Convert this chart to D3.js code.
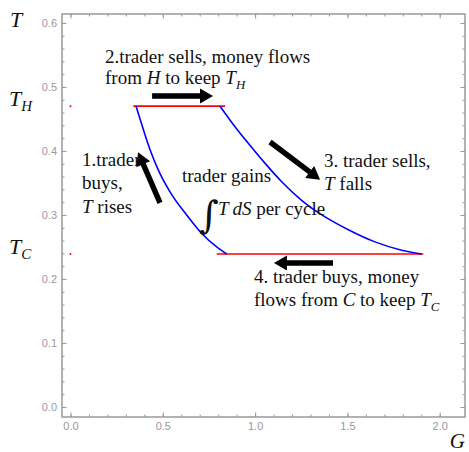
<!DOCTYPE html>
<html>
<head>
<meta charset="utf-8">
<script src="https://cdn.jsdelivr.net/npm/d3@7"></script>
<style>
  body { margin: 0; background: #fff; }
  svg { display: block; }
  .lbl { font-family: "Liberation Serif", "Times New Roman", Times, serif; font-size: 19px; fill: #111; }
  .it { font-style: italic; }
  .tk text { font-family: "Liberation Sans", Arial, sans-serif; font-size: 11px; fill: #999; }
  .tk line { stroke: #999; }
</style>
</head>
<body>
<svg width="469" height="452"></svg>
<script>
// values
var TH = 0.47, TC = 0.239;
var hotG = [0.34, 0.837];
var coldG = [0.792, 1.911];
var leftG = [0.355, 0.367, 0.431, 0.476, 0.539, 0.629, 0.711, 0.792, 0.846];
var leftT = [0.470, 0.459, 0.402, 0.370, 0.336, 0.300, 0.271, 0.250, 0.239];
var rightG = [0.810, 0.891, 0.963, 1.053, 1.144, 1.252, 1.379, 1.505, 1.649, 1.794, 1.902];
var rightT = [0.470, 0.438, 0.412, 0.381, 0.352, 0.323, 0.297, 0.277, 0.258, 0.245, 0.239];
var dotG = [0, 0];
var dotT = [TH, TC];
var xTicks = [0, 0.5, 1, 1.5, 2];
var yTicks = [0, 0.1, 0.2, 0.3, 0.4, 0.5, 0.6];
var xMinor = d3.range(0, 21).map(function(i){ return i / 10 });
var yMinor = d3.range(0, 31).map(function(i){ return i / 50 });
// arrows: [tailG, tailT, tipG, tipT]
var arrows = [
  [0.442, 0.486, 0.772, 0.486],
  [0.485, 0.319, 0.366, 0.398],
  [1.081, 0.414, 1.352, 0.355],
  [1.422, 0.225, 1.102, 0.225]
];

var svg = d3.select("svg");
var x = d3.scaleLinear().domain([-0.046, 2.137]).range([62, 465]);
var y = d3.scaleLinear().domain([-0.0156, 0.614]).range([417, 14]);
var fmt = d3.format(".1f");

// frame ticks, all four sides pointing in
function ticks(axis, tr, vals, size, labels){
  var g = svg.append("g").attr("class", "tk").attr("transform", tr)
    .call(axis.tickValues(vals).tickSizeInner(-size).tickSizeOuter(0)
      .tickPadding(labels ? 5 : 0).tickFormat(labels ? fmt : ""));
  g.select(".domain").remove();
}
ticks(d3.axisBottom(x), "translate(0,417)", xMinor, 2.5, false);
ticks(d3.axisBottom(x), "translate(0,417)", xTicks, 4.5, true);
ticks(d3.axisTop(x), "translate(0,14)", xMinor, 2.5, false);
ticks(d3.axisTop(x), "translate(0,14)", xTicks, 4.5, false);
ticks(d3.axisLeft(y), "translate(62,0)", yMinor, 2.5, false);
ticks(d3.axisLeft(y), "translate(62,0)", yTicks, 4.5, true);
ticks(d3.axisRight(y), "translate(465,0)", yMinor, 2.5, false);
ticks(d3.axisRight(y), "translate(465,0)", yTicks, 4.5, false);

svg.append("rect").attr("x", 62).attr("y", 14).attr("width", 403).attr("height", 403)
  .attr("fill", "none").attr("stroke", "#999").attr("stroke-width", 1.5);

// isotherms
svg.append("line").attr("x1", x(hotG[0])).attr("x2", x(hotG[1]))
  .attr("y1", y(TH)).attr("y2", y(TH)).attr("stroke", "red").attr("stroke-width", 1.6);
svg.append("line").attr("x1", x(coldG[0])).attr("x2", x(coldG[1]))
  .attr("y1", y(TC)).attr("y2", y(TC)).attr("stroke", "red").attr("stroke-width", 1.6);

var line = d3.line().x(function(d){ return x(d[0]) }).y(function(d){ return y(d[1]) })
  .curve(d3.curveMonotoneX);
svg.append("path").attr("d", line(d3.zip(leftG, leftT)))
  .attr("fill", "none").attr("stroke", "blue").attr("stroke-width", 1.6);
svg.append("path").attr("d", line(d3.zip(rightG, rightT)))
  .attr("fill", "none").attr("stroke", "blue").attr("stroke-width", 1.6);

svg.selectAll(".dot").data(d3.zip(dotG, dotT)).enter().append("circle")
  .attr("cx", function(d){ return x(d[0]) }).attr("cy", function(d){ return y(d[1]) })
  .attr("r", 1).attr("fill", "red");

// fat black arrows
svg.selectAll(".arr").data(arrows).enter().append("path")
  .attr("fill", "black")
  .attr("d", function(d){
    var x0 = x(d[0]), y0 = y(d[1]), x1 = x(d[2]), y1 = y(d[3]);
    var len = Math.hypot(x1 - x0, y1 - y0), ux = (x1 - x0) / len, uy = (y1 - y0) / len;
    var px = -uy, py = ux, w = 2.7, hw = 7.5, hl = 13;
    var bx = x1 - ux * hl, by = y1 - uy * hl;
    var p = [[x0 + px*w, y0 + py*w], [bx + px*w, by + py*w], [bx + px*hw, by + py*hw], [x1, y1],
             [bx - px*hw, by - py*hw], [bx - px*w, by - py*w], [x0 - px*w, y0 - py*w]];
    return "M" + p.map(function(q){ return q.join(",") }).join("L") + "Z";
  });

// texts
function txt(xp, yp, parts, size){
  var t = svg.append("text").attr("class", "lbl").attr("x", xp).attr("y", yp);
  if (size) t.style("font-size", size + "px");
  parts.forEach(function(p){
    var s = t.append("tspan").text(p[0]);
    if (p[1] == "i") s.attr("class", "it");
    if (p[1] == "sub") s.attr("class", "it").attr("dy", 5).style("font-size", "0.68em");
  });
  return t;
}
txt(10, 27, [["T", "i"]], 22);
txt(9, 106, [["T", "i"], ["H", "sub"]], 22);
txt(9, 254, [["T", "i"], ["C", "sub"]], 22);
txt(465, 448, [["G", "i"]], 21).attr("text-anchor", "end");

txt(105, 63, [["2.trader sells, money flows"]]);
txt(105, 84, [["from "], ["H", "i"], [" to keep "], ["T", "i"], ["H", "sub"]]);
txt(82, 166, [["1.trader"]]);
txt(82, 189, [["buys,"]]);
txt(82, 213, [["T", "i"], [" rises"]]);
txt(182, 182, [["trader gains"]]);
txt(199, 228, [["\u222B"]], 38).style("font-family", "DejaVu Serif");
txt(218, 215, [["T", "i"], ["\u2009"], ["dS", "i"], [" per cycle"]]);
txt(324, 167, [["3. trader sells,"]]);
txt(324, 190, [["T", "i"], [" falls"]]);
txt(254, 283, [["4. trader buys, money"]]);
txt(254, 306, [["flows from "], ["C", "i"], [" to keep "], ["T", "i"], ["C", "sub"]]);
</script>
</body>
</html>
